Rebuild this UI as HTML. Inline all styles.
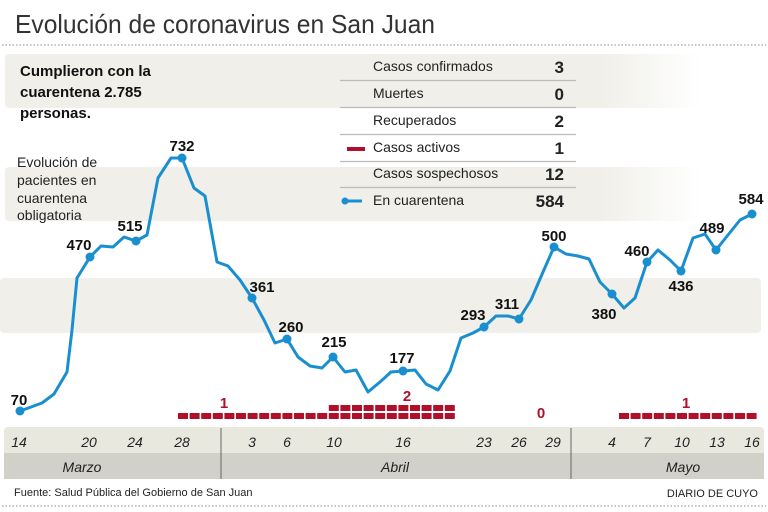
<!DOCTYPE html>
<html><head><meta charset="utf-8"><style>
body{margin:0;background:#fff;}
svg{display:block;font-family:"Liberation Sans",sans-serif;}
.b{font-weight:bold;font-size:15px;fill:#111;text-anchor:middle}
.d{font-style:italic;font-size:14px;fill:#222;text-anchor:middle}
.t{font-size:14px;fill:#222}
.v{font-size:17px;font-weight:bold;fill:#222;text-anchor:end}
</style></head><body>
<svg width="768" height="512" viewBox="0 0 768 512">
<defs>
<linearGradient id="g" x1="0" x2="1"><stop offset="0" stop-color="#f0efe9"/><stop offset="0.75" stop-color="#f0efe9"/><stop offset="1" stop-color="#f0efe9" stop-opacity="0"/></linearGradient>
</defs>
<text x="15" y="33" font-size="26" fill="#333" textLength="420" lengthAdjust="spacingAndGlyphs">Evolución de coronavirus en San Juan</text>
<line x1="2" y1="45" x2="766" y2="45" stroke="#888" stroke-dasharray="1.5 2"/>
<rect x="5" y="54" width="300" height="54" rx="4" fill="#f0efe9"/>
<rect x="300" y="54" width="400" height="54" fill="url(#g)"/>
<rect x="5" y="167" width="300" height="54" rx="4" fill="#f0efe9"/>
<rect x="300" y="167" width="400" height="54" fill="url(#g)"/>
<rect x="0" y="278" width="761" height="55" rx="4" fill="#f0efe9"/>
<text x="20" y="76" font-size="15" font-weight="bold" fill="#111">Cumplieron con la</text>
<text x="20" y="97" font-size="15" font-weight="bold" fill="#111">cuarentena 2.785</text>
<text x="20" y="118" font-size="15" font-weight="bold" fill="#111">personas.</text>
<g font-size="14" fill="#222"><text x="17" y="167">Evolución de</text><text x="17" y="185">pacientes en</text><text x="17" y="203">cuarentena</text><text x="17" y="220">obligatoria</text></g>
<g stroke="#bbb" stroke-width="1.2"><line x1="340" y1="80.5" x2="576" y2="80.5"/><line x1="340" y1="107.5" x2="576" y2="107.5"/><line x1="340" y1="134.5" x2="576" y2="134.5"/><line x1="340" y1="161.5" x2="576" y2="161.5"/><line x1="340" y1="187.5" x2="576" y2="187.5"/></g>
<text class="t" x="373" y="71">Casos confirmados</text><text class="v" x="564" y="73">3</text>
<text class="t" x="373" y="98">Muertes</text><text class="v" x="564" y="100">0</text>
<text class="t" x="373" y="125">Recuperados</text><text class="v" x="564" y="127">2</text>
<text class="t" x="373" y="152">Casos activos</text><text class="v" x="564" y="154">1</text>
<text class="t" x="373" y="178">Casos sospechosos</text><text class="v" x="564" y="180">12</text>
<text class="t" x="373" y="205">En cuarentena</text><text class="v" x="564" y="207">584</text>
<rect x="347" y="147" width="18" height="4" fill="#b0102a"/>
<line x1="344" y1="201" x2="362" y2="201" stroke="#1a8fd0" stroke-width="3"/><circle cx="345" cy="201" r="3.5" fill="#1a8fd0"/>
<rect x="4" y="427" width="760" height="52" rx="4" fill="#e9e8df"/>
<rect x="4" y="453" width="760" height="26" fill="#d1d0c9"/>
<line x1="221" y1="428" x2="221" y2="479" stroke="#666"/><line x1="571" y1="428" x2="571" y2="479" stroke="#666"/>
<g><text x="19" y="447" class="d">14</text><text x="89" y="447" class="d">20</text><text x="135" y="447" class="d">24</text><text x="182" y="447" class="d">28</text><text x="252" y="447" class="d">3</text><text x="287" y="447" class="d">6</text><text x="334" y="447" class="d">10</text><text x="403" y="447" class="d">16</text><text x="484" y="447" class="d">23</text><text x="519" y="447" class="d">26</text><text x="553" y="447" class="d">29</text><text x="612" y="447" class="d">4</text><text x="647" y="447" class="d">7</text><text x="682" y="447" class="d">10</text><text x="717" y="447" class="d">13</text><text x="752" y="447" class="d">16</text>
<text x="82" y="472" class="d">Marzo</text><text x="395" y="472" class="d">Abril</text><text x="683" y="472" class="d">Mayo</text></g>
<g fill="#b0102a">
<rect x="178" y="413" width="10" height="6"/><rect x="189.6" y="413" width="10" height="6"/><rect x="201.2" y="413" width="10" height="6"/><rect x="212.8" y="413" width="10" height="6"/><rect x="224.4" y="413" width="10" height="6"/><rect x="236" y="413" width="10" height="6"/><rect x="247.6" y="413" width="10" height="6"/><rect x="259.2" y="413" width="10" height="6"/><rect x="270.8" y="413" width="10" height="6"/><rect x="282.4" y="413" width="10" height="6"/><rect x="294" y="413" width="10" height="6"/><rect x="305.6" y="413" width="10" height="6"/><rect x="317.2" y="413" width="10" height="6"/><rect x="328.8" y="413" width="10" height="6"/><rect x="340.4" y="413" width="10" height="6"/><rect x="352" y="413" width="10" height="6"/><rect x="363.6" y="413" width="10" height="6"/><rect x="375.2" y="413" width="10" height="6"/><rect x="386.8" y="413" width="10" height="6"/><rect x="398.4" y="413" width="10" height="6"/><rect x="410" y="413" width="10" height="6"/><rect x="421.6" y="413" width="10" height="6"/><rect x="433.2" y="413" width="10" height="6"/><rect x="444.8" y="413" width="10" height="6"/>
<rect x="328.8" y="405" width="10" height="6"/><rect x="340.4" y="405" width="10" height="6"/><rect x="352" y="405" width="10" height="6"/><rect x="363.6" y="405" width="10" height="6"/><rect x="375.2" y="405" width="10" height="6"/><rect x="386.8" y="405" width="10" height="6"/><rect x="398.4" y="405" width="10" height="6"/><rect x="410" y="405" width="10" height="6"/><rect x="421.6" y="405" width="10" height="6"/><rect x="433.2" y="405" width="10" height="6"/><rect x="444.8" y="405" width="10" height="6"/>
<rect x="619" y="413" width="10" height="6"/><rect x="630.6" y="413" width="10" height="6"/><rect x="642.2" y="413" width="10" height="6"/><rect x="653.8" y="413" width="10" height="6"/><rect x="665.4" y="413" width="10" height="6"/><rect x="677" y="413" width="10" height="6"/><rect x="688.6" y="413" width="10" height="6"/><rect x="700.2" y="413" width="10" height="6"/><rect x="711.8" y="413" width="10" height="6"/><rect x="723.4" y="413" width="10" height="6"/><rect x="735" y="413" width="10" height="6"/><rect x="746.6" y="413" width="10" height="6"/>
</g>
<g font-size="15" font-weight="bold" fill="#b0102a" text-anchor="middle"><text x="224" y="408">1</text><text x="407" y="401">2</text><text x="541" y="418">0</text><text x="686" y="408">1</text></g>
<polyline fill="none" stroke="#1a8fd0" stroke-width="3" stroke-linejoin="round" points="20,411 42,403 54,394 67,372 72,330 77,278 90,257 101,246 113,247 124,237 136,241 147,235 158,178 171,158 182,158 194,188 205,196 217,262 228,266 240,280 252,298 264,320 275,343 287,339 298,357 310,366 322,368 333,357 345,372 356,370 368,392 380,382 391,372 403,371 415,370 426,384 438,390 450,371 461,338 473,333 484,327 496,316 508,316 519,319 531,300 543,272 554,247 566,254 578,256 589,259 600,282 612,294 624,308 635,298 647,262 658,250 670,260 681,271 693,238 705,234 716,250 728,235 740,220 752,214"/>
<g fill="#1a8fd0"><circle cx="20" cy="411" r="4.5"/><circle cx="90" cy="257" r="4.5"/><circle cx="136" cy="241" r="4.5"/><circle cx="182" cy="158" r="4.5"/><circle cx="252" cy="298" r="4.5"/><circle cx="287" cy="339" r="4.5"/><circle cx="333" cy="357" r="4.5"/><circle cx="403" cy="371" r="4.5"/><circle cx="484" cy="327" r="4.5"/><circle cx="519" cy="319" r="4.5"/><circle cx="554" cy="247" r="4.5"/><circle cx="612" cy="294" r="4.5"/><circle cx="647" cy="262" r="4.5"/><circle cx="681" cy="271" r="4.5"/><circle cx="716" cy="250" r="4.5"/><circle cx="752" cy="214" r="4.5"/></g>
<text class="b" x="19" y="405">70</text><text class="b" x="79" y="250">470</text><text class="b" x="130" y="231">515</text><text class="b" x="182" y="151">732</text><text class="b" x="262" y="292">361</text><text class="b" x="291" y="332">260</text><text class="b" x="334" y="347">215</text><text class="b" x="402" y="363">177</text><text class="b" x="473" y="320">293</text><text class="b" x="507" y="309">311</text><text class="b" x="554" y="241">500</text><text class="b" x="604" y="319">380</text><text class="b" x="637" y="256">460</text><text class="b" x="681" y="291">436</text><text class="b" x="712" y="233">489</text><text class="b" x="751" y="204" font-size="19">584</text>
<text x="14" y="496" font-size="11" fill="#222">Fuente: Salud Pública del Gobierno de San Juan</text>
<text x="758" y="497" font-size="11" fill="#222" text-anchor="end">DIARIO DE CUYO</text>
<line x1="2" y1="506" x2="766" y2="506" stroke="#888" stroke-dasharray="1.5 2"/>
</svg>
</body></html>
